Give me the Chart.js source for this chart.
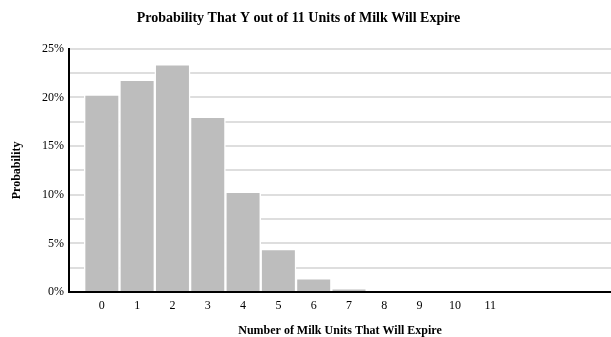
<!DOCTYPE html>
<html>
<head>
<meta charset="utf-8">
<script src="https://cdn.jsdelivr.net/npm/chart.js@4"></script>
<style>
    html, body { margin: 0; padding: 0; background: #fff; }
    #wrap { width: 611px; height: 337px; }
</style>
</head>
<body>
<div id="wrap"><canvas id="chart"></canvas></div>
<script>
const units = [0, 1, 2, 3, 4, 5, 6, 7, 8, 9, 10, 11];
const probabilities = [20.3, 21.8, 23.4, 18.0, 10.3, 4.4, 1.4, 0.35, 0.04, 0.004, 0, 0];
const yTicks = [0, 5, 10, 15, 20, 25];

const serif = 'Liberation Serif';

// bars under 0.1% are thinner than a pixel in the original and don't show
const visible = (ctx) => ctx.raw && ctx.raw.y >= 0.1;

new Chart(document.getElementById('chart'), {
    type: 'bar',
    data: {
        datasets: [{
            label: 'Probability',
            data: units.map((u, i) => ({ x: u, y: probabilities[i] })),
            backgroundColor: (ctx) => visible(ctx) ? '#bdbdbd' : 'rgba(0,0,0,0)',
            borderColor: '#ffffff',
            borderWidth: (ctx) => visible(ctx) ? 1.5 : 0,
            categoryPercentage: 1,
            barPercentage: 1
        }]
    },
    options: {
        responsive: true,
        maintainAspectRatio: false,
        animation: false,
        layout: { padding: 0 },
        plugins: {
            legend: { display: false },
            tooltip: { enabled: false },
            title: {
                display: true,
                // trailing spaces nudge the centred title a little to the left
                text: 'Probability That Y out of 11 Units of Milk Will Expire    ',
                color: '#000',
                font: { family: serif, size: 14, weight: 'bold' },
                padding: { top: 10, bottom: 22 }
            }
        },
        scales: {
            x: {
                type: 'linear',
                offset: false,
                min: -0.93,
                max: 14.42,
                afterFit: (scale) => { scale.height = 45; },
                afterBuildTicks: (scale) => { scale.ticks = units.map(v => ({ value: v })); },
                grid: { display: false, drawTicks: false },
                border: { color: '#000', width: 2 },
                ticks: {
                    autoSkip: false,
                    maxRotation: 0,
                    padding: 7,
                    color: '#000',
                    font: { family: serif, size: 12 }
                },
                title: {
                    display: true,
                    text: 'Number of Milk Units That Will Expire',
                    color: '#000',
                    font: { family: serif, size: 12, weight: 'bold', lineHeight: 1 },
                    padding: { top: 0, bottom: 0 }
                }
            },
            y: {
                min: 0,
                max: 25,
                afterFit: (scale) => { scale.width = 69; },
                grid: {
                    color: (ctx) => ctx.tick && ctx.tick.value === 0 ? 'rgba(0,0,0,0)' : '#dedede',
                    lineWidth: 2,
                    drawTicks: false
                },
                border: { color: '#000', width: 2 },
                ticks: {
                    stepSize: 2.5,
                    padding: 5,
                    color: '#000',
                    font: { family: serif, size: 12 },
                    callback: (v) => yTicks.includes(v) ? v + '%' : ''
                },
                title: {
                    display: true,
                    text: 'Probability',
                    color: '#000',
                    font: { family: serif, size: 12, weight: 'bold' },
                    padding: { top: 10, bottom: 0 }
                }
            }
        }
    }
});
</script>
</body>
</html>
